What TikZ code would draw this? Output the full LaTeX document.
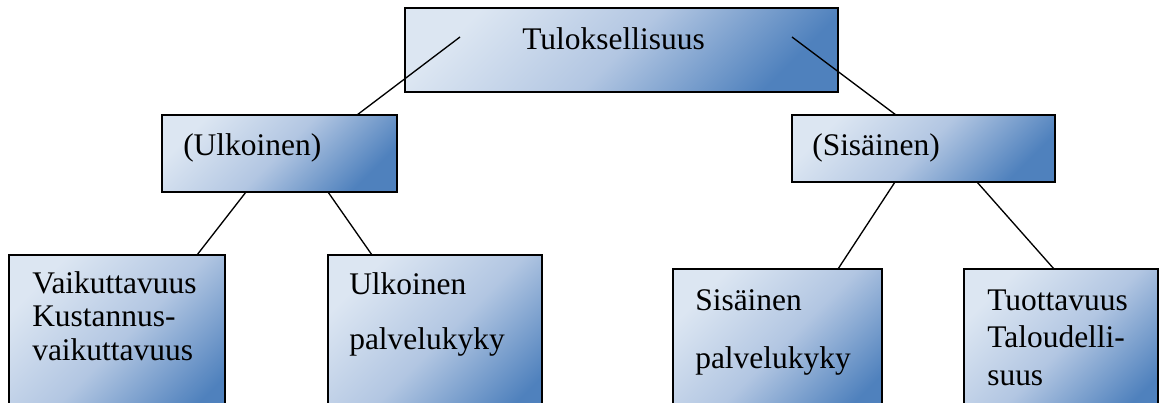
\documentclass[tikz,border=0pt]{standalone}
\usepackage{fontspec}
\setmainfont{Liberation Serif}
\usepackage{tikz}
\usetikzlibrary{calc, positioning}
\definecolor{vaalea}{HTML}{DCE6F2}
\definecolor{keski}{HTML}{B2C6E2}
\definecolor{tumma}{HTML}{4F81BD}
\tikzset{
	every node/.style={
		font=\fontsize{23.6}{25.1}\selectfont
	},
	laatikko/.style={
		shape=rectangle,
		anchor=north west,
		inner sep=0pt,
		outer sep=0pt,
		draw,
		line width=1.4pt,
		top color=vaalea,
		bottom color=tumma,
		middle color=keski,
		shading angle=45
	},
	teksti/.style={
		anchor=base west,
		inner sep=0pt,
		align=left
	},
	yhteys/.style={
		line width=1pt
	}
}

\begin{document}
\begin{tikzpicture}[x=0.75pt, y=-0.75pt]
	
	\clip (0,0) rectangle (1160,403);
	
	% laatikot
	\node[laatikko, minimum width=433*0.75pt, minimum height=84*0.75pt] (tulos) at (405,8) {};
	\node[laatikko, minimum width=235*0.75pt, minimum height=77*0.75pt] (ulkoinen) at (162,115) {};
	\node[laatikko, minimum width=263*0.75pt, minimum height=67*0.75pt] (sisainen) at (792,115) {};
	\node[laatikko, minimum width=216*0.75pt, minimum height=180*0.75pt] (vaik) at (9,255) {};
	\node[laatikko, minimum width=214*0.75pt, minimum height=180*0.75pt] (ulkpalv) at (328,255) {};
	\node[laatikko, minimum width=209*0.75pt, minimum height=160*0.75pt] (sispalv) at (673,269) {};
	\node[laatikko, minimum width=194*0.75pt, minimum height=160*0.75pt] (tuot) at (964,269) {};
	
	% tekstit (base = viimeisen rivin perusviiva)
	\node[teksti] (tulos-t) at ($(tulos.north west)+(117,42)$) {Tuloksellisuus};
	\node[teksti] (ulkoinen-t) at ($(ulkoinen.north west)+(21,40)$) {(Ulkoinen)};
	\node[teksti] (sisainen-t) at ($(sisainen.north west)+(20,40)$) {(Sisäinen)};
	\node[teksti, font=\fontsize{23.6}{25.1}\selectfont] (vaik-t) at ($(vaik.north west)+(23,105)$) {Vaikuttavuus\\Kustannus-\\vaikuttavuus};
	\node[teksti, font=\fontsize{23.6}{41}\selectfont] (ulkpalv-t) at ($(ulkpalv.north west)+(21,94)$) {Ulkoinen\\palvelukyky};
	\node[teksti, font=\fontsize{23.6}{43.5}\selectfont] (sispalv-t) at ($(sispalv.north west)+(22,99)$) {Sisäinen\\palvelukyky};
	\node[teksti, font=\fontsize{23.6}{28.1}\selectfont] (tuot-t) at ($(tuot.north west)+(23,116)$) {Tuottavuus\\Taloudelli-\\suus};
	
	% yhteydet
	\draw[yhteys] ($(tulos.north west)+(55,29)$) -- ($(ulkoinen.north west)+(195,0)$);
	\draw[yhteys] ($(tulos.north west)+(387,29)$) -- ($(sisainen.north west)+(104,0)$);
	\draw[yhteys] ($(ulkoinen.south west)+(84,0)$) -- ($(vaik.north west)+(188,0)$);
	\draw[yhteys] ($(ulkoinen.south west)+(166,0)$) -- ($(ulkpalv.north west)+(44,0)$);
	\draw[yhteys] ($(sisainen.south west)+(103,0)$) -- ($(sispalv.north west)+(165,0)$);
	\draw[yhteys] ($(sisainen.south west)+(185,0)$) -- ($(tuot.north west)+(90,0)$);
	
\end{tikzpicture}
\end{document}
